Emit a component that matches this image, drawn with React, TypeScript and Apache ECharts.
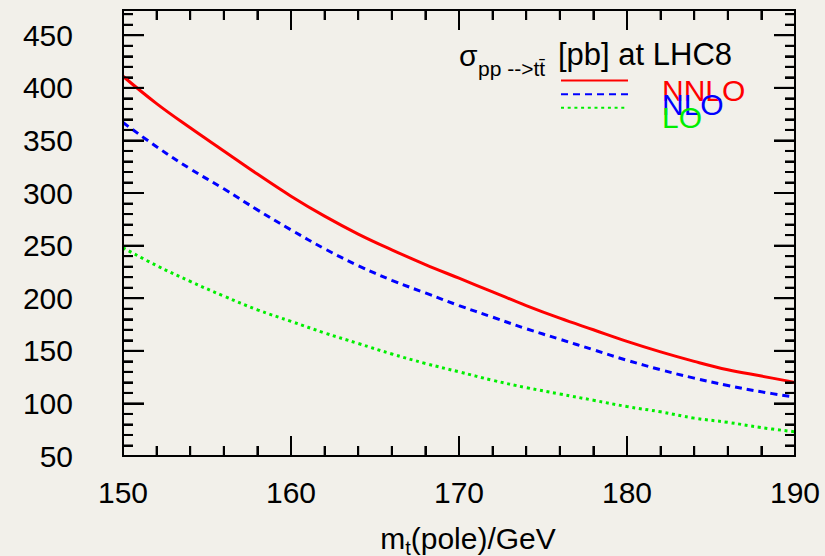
import React, { useEffect, useRef } from "react";
import * as echarts from "echarts";

// ---- data ----
const masses = [150, 152, 154, 156, 158, 160, 162, 164, 166, 168, 170, 172, 174, 176, 178, 180, 182, 184, 186, 188, 190];
const nnlo = [411, 385, 362, 340, 318, 297, 278, 261, 246, 232, 219, 206, 193, 181, 170, 159, 149, 140, 132, 126, 120];
const nlo = [367, 344, 323, 304, 284, 265, 247, 231, 217, 205, 193, 182, 171, 161, 151, 141, 132, 124, 117, 111, 106];
const lo = [248, 231, 216, 202, 189, 178, 167, 157, 147, 138, 130, 122, 115, 109, 103, 97, 92, 86, 82, 77, 73];

const seriesNames = ["NNLO", "NLO", "LO"];
const seriesColors = ["#ff0000", "#0000ff", "#00ee00"];

const xMajorTicks = [150, 160, 170, 180, 190];
const xMinorTicks = [152, 154, 156, 158, 162, 164, 166, 168, 172, 174, 176, 178, 182, 184, 186, 188];
const yMajorTicks = [50, 100, 150, 200, 250, 300, 350, 400, 450];
const yMinorTicks = [60, 70, 80, 90, 110, 120, 130, 140, 160, 170, 180, 190, 210, 220, 230, 240, 260, 270, 280, 290, 310, 320, 330, 340, 360, 370, 380, 390, 410, 420, 430, 440, 460, 470];

const xMin = 150;
const xMax = 190;
const xMajor = 10;
const yMin = 50;
const yMax = 474;
const yMajor = 50;
const yMinor = 10;

const BG = "#f2f0ea";
const FONT = "'Liberation Sans', Arial, Helvetica, sans-serif";

const pairs = (vals: number[]) => masses.map((m, i) => [m, vals[i]]);
const mkLine = () => ({ show: true, lineStyle: { color: "#000", width: 2 } });
const mkTick = (len: number) => ({ show: true, inside: true, length: len, lineStyle: { color: "#000", width: 2 } });

// frame + ticks on all four sides, placed through the cartesian scales
function frameItem(_p: any, api: any) {
  const st = { stroke: "#000", lineWidth: 2 };
  const ch: any[] = [];
  const L = (x1: number, y1: number, x2: number, y2: number) =>
    ch.push({ type: "line", shape: { x1, y1, x2, y2 }, style: st });
  const bl = api.coord([xMin, yMin]);
  const tr = api.coord([xMax, yMax]);
  L(bl[0], bl[1], tr[0], bl[1]);
  L(bl[0], tr[1], tr[0], tr[1]);
  L(bl[0], bl[1], bl[0], tr[1]);
  L(tr[0], bl[1], tr[0], tr[1]);
  xMajorTicks.forEach((v) => { const x = api.coord([v, yMin])[0]; L(x, bl[1], x, bl[1] - 20); L(x, tr[1], x, tr[1] + 20); });
  xMinorTicks.forEach((v) => { const x = api.coord([v, yMin])[0]; L(x, bl[1], x, bl[1] - 10); L(x, tr[1], x, tr[1] + 10); });
  yMajorTicks.forEach((v) => { const y = api.coord([xMin, v])[1]; L(bl[0], y, bl[0] + 21, y); L(tr[0], y, tr[0] - 21, y); });
  yMinorTicks.forEach((v) => { const y = api.coord([xMin, v])[1]; L(bl[0], y, bl[0] + 10, y); L(tr[0], y, tr[0] - 10, y); });
  return { type: "group", children: ch };
}

function xAxisDef(pos: "bottom" | "top", withLabels: boolean) {
  const ax: any = {
    type: "value",
    position: pos,
    min: xMin,
    max: xMax,
    interval: xMajor,
    axisLine: mkLine(),
    axisTick: mkTick(20),
    minorTick: { show: true, splitNumber: 5, length: 10, lineStyle: { color: "#000", width: 2 } },
    splitLine: { show: false },
    axisLabel: withLabels
      ? { show: true, fontSize: 30, fontFamily: FONT, color: "#000", margin: 21 }
      : { show: false },
  };
  if (withLabels) {
    ax.name = "{a|m}{b|t}{a|(pole)/GeV}";
    ax.nameLocation = "middle";
    ax.nameGap = 62;
    ax.nameTextStyle = {
      padding: [0, 0, 0, 18],
      rich: {
        a: { fontSize: 30, fontFamily: FONT, color: "#000" },
        b: { fontSize: 20, fontFamily: FONT, color: "#000", padding: [20, 0, 0, 0] },
      },
    };
  }
  return ax;
}

function yAxisDef(pos: "left" | "right", interval: number, tickLen: number, withLabels: boolean) {
  return {
    type: "value",
    position: pos,
    min: yMin,
    max: yMax,
    interval,
    axisLine: mkLine(),
    axisTick: mkTick(tickLen),
    splitLine: { show: false },
    axisLabel: withLabels
      ? {
          show: true,
          fontSize: 30,
          fontFamily: FONT,
          color: "#000",
          margin: 50,
          formatter: (v: number) => (v % yMajor === 0 ? String(v) : ""),
        }
      : { show: false },
  };
}

const App = () => {
  const ref = useRef<HTMLDivElement>(null);
  useEffect(() => {
    document.body.style.margin = "0";
    const chart = echarts.init(ref.current as HTMLDivElement, null, { renderer: "svg" });
    const lineStyles = [
      { color: seriesColors[0], width: 3, type: "solid" },
      { color: seriesColors[1], width: 3, type: [7, 5] },
      { color: seriesColors[2], width: 3, type: [3, 3.7] },
    ];
    const dataSets = [nnlo, nlo, lo];
    const series: any[] = seriesNames.map((n, i) => ({
      name: n,
      type: "line",
      xAxisIndex: 0,
      yAxisIndex: 0,
      data: pairs(dataSets[i]),
      smooth: 0.4,
      showSymbol: false,
      symbol: "none",
      lineStyle: lineStyles[i],
      itemStyle: { color: seriesColors[i] },
      z: 3,
    }));
    series.push({
      type: "custom",
      coordinateSystem: "cartesian2d",
      xAxisIndex: 0,
      yAxisIndex: 0,
      data: [[xMin, yMin]],
      renderItem: frameItem,
      silent: true,
      clip: false,
      z: 4,
    });
    chart.setOption({
      animation: false,
      backgroundColor: BG,
      grid: { left: 123, right: 30, top: 10, bottom: 100, outerBoundsMode: "none" },
      xAxis: [xAxisDef("bottom", true), xAxisDef("top", false)],
      yAxis: [
        yAxisDef("left", yMajor, 21, true),
        yAxisDef("left", yMinor, 10, false),
        yAxisDef("right", yMajor, 21, false),
        yAxisDef("right", yMinor, 10, false),
      ],
      legend: {
        show: true,
        orient: "vertical",
        left: 560,
        top: 75,
        padding: 0,
        itemWidth: 67,
        itemHeight: 14,
        itemGap: -17,
        itemStyle: { opacity: 0 },
        formatter: "{a|{name}}",
        data: seriesNames.map((n, i) => ({ name: n, textStyle: { color: seriesColors[i] } })),
        textStyle: {
          fontSize: 30,
          fontFamily: FONT,
          rich: { a: { fontSize: 30, fontFamily: FONT, padding: [20, 0, 0, 29] } },
        },
      },
      graphic: [
        {
          type: "text",
          x: 459,
          y: 55,
          style: { text: "σ", fontSize: 30, fontFamily: FONT, fill: "#000", textVerticalAlign: "middle", verticalAlign: "middle" },
        },
        {
          type: "text",
          x: 478,
          y: 68,
          style: { text: "pp -->tt\u0304", fontSize: 21, fontFamily: FONT, fill: "#000", textVerticalAlign: "middle", verticalAlign: "middle" },
        },
        {
          type: "text",
          x: 558,
          y: 54,
          style: { text: "[pb] at LHC8", fontSize: 31, fontFamily: FONT, fill: "#000", textVerticalAlign: "middle", verticalAlign: "middle" },
        },
      ],
      series,
    });
    return () => chart.dispose();
  }, []);
  return <div ref={ref} style={{ width: 825, height: 556 }} />;
};

export default App;
